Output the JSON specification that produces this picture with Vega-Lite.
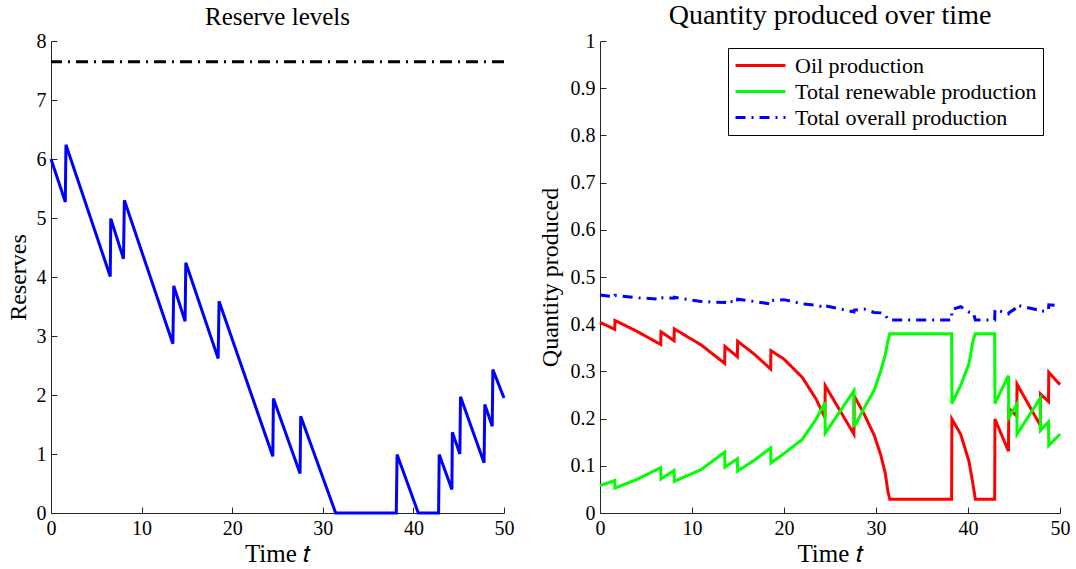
{
  "$schema": "https://vega.github.io/schema/vega-lite/v6.json",
  "background": "white",
  "padding": {"left": 6, "top": 2, "right": 0, "bottom": 0},
  "spacing": 24,
  "config": {
    "view": {"stroke": null},
    "font": "Liberation Serif",
    "axis": {
      "domainColor": "#262626", "domainWidth": 1,
      "tickColor": "#262626", "tickSize": -6, "labelPadding": 11,
      "labelFont": "Liberation Serif", "labelFontSize": 20, "labelColor": "black",
      "titleFont": "Liberation Serif", "titleFontSize": 24, "titleFontWeight": "normal", "titleColor": "black",
      "grid": false, "labelOverlap": false, "labelFlush": false
    },
    "title": {"font": "Liberation Serif", "fontSize": 25, "fontWeight": "normal", "offset": 1, "anchor": "middle", "color": "black"}
  },
  "hconcat": [
    {
      "title": {"text": "Reserve levels", "fontSize": 25},
      "width": 453,
      "height": 472,
      "layer": [
        {
          "data": {"values": [{"level": 7.65}]},
          "mark": {"type": "rule", "color": "black", "strokeWidth": 3, "strokeDash": [12, 6, 2, 6]},
          "encoding": {"y": {"field": "level", "type": "quantitative", "scale": {"domain": [0, 8]}}}
        },
        {
          "data": {"values": [
            {"t": 0, "r": 6.0}, {"t": 1.58, "r": 5.27}, {"t": 1.65, "r": 6.24},
            {"t": 6.54, "r": 4.01}, {"t": 6.6, "r": 4.99}, {"t": 8.0, "r": 4.31}, {"t": 8.1, "r": 5.3},
            {"t": 13.45, "r": 2.87}, {"t": 13.55, "r": 3.85}, {"t": 14.8, "r": 3.25}, {"t": 14.88, "r": 4.24},
            {"t": 18.45, "r": 2.62}, {"t": 18.55, "r": 3.59}, {"t": 24.48, "r": 0.96}, {"t": 24.55, "r": 1.94},
            {"t": 27.49, "r": 0.67}, {"t": 27.56, "r": 1.64}, {"t": 31.42, "r": 0}, {"t": 38.11, "r": 0},
            {"t": 38.2, "r": 0.99}, {"t": 40.54, "r": 0}, {"t": 42.78, "r": 0}, {"t": 42.85, "r": 0.99},
            {"t": 44.25, "r": 0.4}, {"t": 44.3, "r": 1.37}, {"t": 45.13, "r": 1.0}, {"t": 45.2, "r": 1.97},
            {"t": 47.8, "r": 0.85}, {"t": 47.88, "r": 1.84}, {"t": 48.7, "r": 1.47}, {"t": 48.77, "r": 2.43},
            {"t": 50, "r": 1.95}
          ]},
          "mark": {"type": "line", "color": "#0000ff", "strokeWidth": 3, "strokeJoin": "miter"},
          "encoding": {
            "x": {"field": "t", "type": "quantitative", "scale": {"domain": [0, 50], "nice": false},
                  "axis": {"values": [0, 10, 20, 30, 40, 50], "title": "Time 𝑡", "titleFontSize": 25, "titlePadding": 3}},
            "y": {"field": "r", "type": "quantitative", "scale": {"domain": [0, 8], "nice": false},
                  "axis": {"values": [0, 1, 2, 3, 4, 5, 6, 7, 8], "format": "~g", "title": "Reserves", "titlePadding": 6}}
          }
        }
      ]
    },
    {
      "title": {"text": "Quantity produced over time", "fontSize": 28},
      "width": 460,
      "height": 472,
      "data": {"values": [
        {"t": 0, "oil": 0.404, "ren": 0.058, "tot": 0.462},
        {"t": 1.6, "oil": 0.389, "ren": 0.069, "tot": 0.458},
        {"t": 1.63, "oil": 0.408, "ren": 0.053, "tot": 0.461},
        {"t": 4, "oil": 0.385, "ren": 0.071, "tot": 0.456},
        {"t": 6.6, "oil": 0.357, "ren": 0.096, "tot": 0.453},
        {"t": 6.63, "oil": 0.384, "ren": 0.072, "tot": 0.456},
        {"t": 8.05, "oil": 0.365, "ren": 0.09, "tot": 0.455},
        {"t": 8.08, "oil": 0.39, "ren": 0.067, "tot": 0.457},
        {"t": 11, "oil": 0.356, "ren": 0.092, "tot": 0.448},
        {"t": 13.55, "oil": 0.317, "ren": 0.129, "tot": 0.446},
        {"t": 13.58, "oil": 0.353, "ren": 0.097, "tot": 0.45},
        {"t": 14.93, "oil": 0.331, "ren": 0.115, "tot": 0.446},
        {"t": 14.96, "oil": 0.364, "ren": 0.089, "tot": 0.453},
        {"t": 16.8, "oil": 0.336, "ren": 0.112, "tot": 0.448},
        {"t": 18.55, "oil": 0.305, "ren": 0.138, "tot": 0.443},
        {"t": 18.58, "oil": 0.344, "ren": 0.106, "tot": 0.45},
        {"t": 20, "oil": 0.326, "ren": 0.126, "tot": 0.452},
        {"t": 22, "oil": 0.287, "ren": 0.156, "tot": 0.443},
        {"t": 23.5, "oil": 0.241, "ren": 0.199, "tot": 0.44},
        {"t": 24.45, "oil": 0.202, "ren": 0.234, "tot": 0.436},
        {"t": 24.48, "oil": 0.27, "ren": 0.169, "tot": 0.439},
        {"t": 27.6, "oil": 0.167, "ren": 0.259, "tot": 0.426},
        {"t": 27.63, "oil": 0.248, "ren": 0.182, "tot": 0.43},
        {"t": 28.7, "oil": 0.21, "ren": 0.222, "tot": 0.432},
        {"t": 29.8, "oil": 0.165, "ren": 0.26, "tot": 0.425},
        {"t": 30.5, "oil": 0.124, "ren": 0.3, "tot": 0.424},
        {"t": 31.0, "oil": 0.085, "ren": 0.335, "tot": 0.42},
        {"t": 31.3, "oil": 0.045, "ren": 0.365, "tot": 0.41},
        {"t": 31.5, "oil": 0.029, "ren": 0.38, "tot": 0.409},
        {"t": 38.22, "oil": 0.029, "ren": 0.38, "tot": 0.409},
        {"t": 38.25, "oil": 0.199, "ren": 0.232, "tot": 0.431},
        {"t": 39.2, "oil": 0.167, "ren": 0.27, "tot": 0.437},
        {"t": 40.1, "oil": 0.11, "ren": 0.316, "tot": 0.426},
        {"t": 40.55, "oil": 0.06, "ren": 0.365, "tot": 0.425},
        {"t": 40.8, "oil": 0.029, "ren": 0.38, "tot": 0.409},
        {"t": 42.9, "oil": 0.029, "ren": 0.38, "tot": 0.409},
        {"t": 42.93, "oil": 0.199, "ren": 0.232, "tot": 0.431},
        {"t": 44.4, "oil": 0.131, "ren": 0.291, "tot": 0.422},
        {"t": 44.43, "oil": 0.222, "ren": 0.202, "tot": 0.424},
        {"t": 45.3, "oil": 0.205, "ren": 0.23, "tot": 0.435},
        {"t": 45.33, "oil": 0.273, "ren": 0.167, "tot": 0.44},
        {"t": 47.85, "oil": 0.186, "ren": 0.243, "tot": 0.429},
        {"t": 47.88, "oil": 0.252, "ren": 0.175, "tot": 0.427},
        {"t": 48.75, "oil": 0.236, "ren": 0.193, "tot": 0.429},
        {"t": 48.78, "oil": 0.298, "ren": 0.143, "tot": 0.441},
        {"t": 50, "oil": 0.272, "ren": 0.167, "tot": 0.439}
      ]},
      "transform": [{"fold": ["oil", "ren", "tot"], "as": ["series", "value"]}],
      "mark": {"type": "line", "strokeWidth": 3, "strokeJoin": "miter"},
      "encoding": {
        "x": {"field": "t", "type": "quantitative", "scale": {"domain": [0, 50], "nice": false},
              "axis": {"values": [0, 10, 20, 30, 40, 50], "title": "Time 𝑡", "titleFontSize": 25, "titlePadding": 3}},
        "y": {"field": "value", "type": "quantitative", "scale": {"domain": [0, 1], "nice": false},
              "axis": {"values": [0, 0.1, 0.2, 0.3, 0.4, 0.5, 0.6, 0.7, 0.8, 0.9, 1], "format": "~g", "title": "Quantity produced", "titlePadding": 8}},
        "color": {
          "field": "series", "type": "nominal",
          "scale": {"domain": ["oil", "ren", "tot"], "range": ["#ff0000", "#00ff00", "#0000ff"]},
          "legend": {
            "title": null, "orient": "none", "legendX": 677, "legendY": 7,
            "labelExpr": "datum.value == 'oil' ? 'Oil production' : datum.value == 'ren' ? 'Total renewable production' : 'Total overall production'",
            "symbolType": "M-1,0H4", "symbolSize": 400, "symbolStrokeWidth": 3,
            "labelFont": "Liberation Serif", "labelFontSize": 22, "labelColor": "black", "labelOffset": 38, "labelLimit": 500,
            "strokeColor": "black", "fillColor": "white", "padding": 6, "rowPadding": 3, "cornerRadius": 0
          }
        },
        "strokeDash": {
          "field": "series", "type": "nominal",
          "scale": {"domain": ["oil", "ren", "tot"], "range": [[1, 0], [1, 0], [10, 6, 2, 6]]},
          "legend": {
            "title": null, "orient": "none", "legendX": 677, "legendY": 7,
            "labelExpr": "datum.value == 'oil' ? 'Oil production' : datum.value == 'ren' ? 'Total renewable production' : 'Total overall production'",
            "symbolType": "M-1,0H4", "symbolSize": 400, "symbolStrokeWidth": 3,
            "labelFont": "Liberation Serif", "labelFontSize": 22, "labelColor": "black", "labelOffset": 38, "labelLimit": 500,
            "strokeColor": "black", "fillColor": "white", "padding": 6, "rowPadding": 3, "cornerRadius": 0
          }
        }
      }
    }
  ]
}
